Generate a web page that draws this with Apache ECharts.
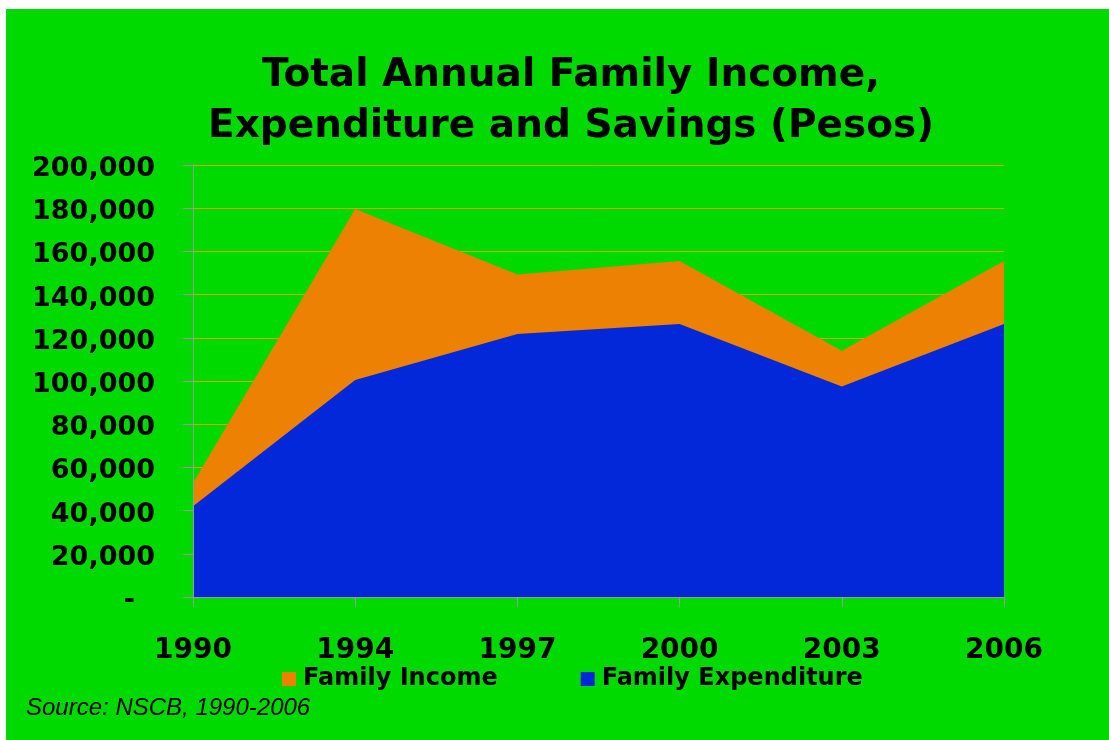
<!DOCTYPE html>
<html>
<head>
<meta charset="utf-8">
<script src="https://cdn.jsdelivr.net/npm/echarts@6/dist/echarts.min.js"></script>
<style>
  html, body { margin: 0; padding: 0; background: #ffffff; }
  #chart { position: absolute; left: 6px; top: 9px; width: 1103px; height: 731px; }
</style>
</head>
<body>
<div id="chart"></div>
<script>
// data (pesos)
var years = ['1990', '1994', '1997', '2000', '2003', '2006'];
var familyIncome = [52800, 179600, 149300, 155600, 114000, 155600];
var familyExpenditure = [42000, 100500, 121800, 126400, 97400, 126400];

var seriesNames = ['Family Income', 'Family Expenditure'];
var seriesColors = ['#ec8104', '#0328da'];

var myChart = echarts.init(document.getElementById('chart'));

var labelFont = {
  fontFamily: 'DejaVu Sans',
  fontWeight: 'bold',
  fontSize: 27,
  color: '#000'
};

var option = {
  backgroundColor: '#00da00',
  animation: false,
  legend: {
    data: seriesNames,
    left: 276,
    top: 658,
    padding: 0,
    icon: 'rect',
    itemWidth: 14,
    itemHeight: 14,
    itemGap: 83,
    textStyle: {
      fontFamily: 'DejaVu Sans',
      fontWeight: 'bold',
      fontSize: 24,
      color: '#000',
      padding: [0, 0, 0, 2]
    }
  },
  grid: {
    left: 187,
    right: 105,
    top: 156,
    bottom: 143,
    containLabel: false
  },
  xAxis: {
    type: 'category',
    data: years,
    boundaryGap: false,
    z: 10,
    axisLine: { lineStyle: { color: '#999999', width: 1 } },
    axisTick: { show: true, length: 10, lineStyle: { color: '#999999' } },
    axisLabel: {
      margin: 40,
      fontFamily: 'DejaVu Sans',
      fontWeight: 'bold',
      fontSize: 28,
      color: '#000'
    },
    splitLine: { show: false }
  },
  yAxis: [
    {
      type: 'value',
      min: 0,
      max: 200000,
      interval: 20000,
      z: 10,
      axisLine: { show: true, lineStyle: { color: '#999999', width: 1 } },
      axisTick: { show: true, length: 10, lineStyle: { color: '#999999' } },
      axisLabel: {
        margin: 38,
        color: '#000',
        formatter: function (v) {
          if (v === 0) return '{z|-}';
          return '{n|' + v.toString().replace(/\B(?=(\d{3})+(?!\d))/g, ',') + '}';
        },
        rich: {
          n: Object.assign({ padding: [8, 0, 0, 0] }, labelFont),
          z: Object.assign({ padding: [8, 20, 0, 0] }, labelFont)
        }
      },
      splitLine: { show: false }
    },
    {
      // gridlines only, kept behind the areas
      type: 'value',
      position: 'left',
      min: 0,
      max: 200000,
      interval: 20000,
      z: 0,
      axisLine: { show: false },
      axisTick: { show: false },
      axisLabel: { show: false },
      splitLine: { show: true, lineStyle: { color: '#d8a400', width: 1 } }
    }
  ],
  graphic: [
    {
      type: 'text',
      x: 565,
      y: 41,
      style: {
        text: 'Total Annual Family Income,\nExpenditure and Savings (Pesos)',
        font: 'bold 39px "DejaVu Sans"',
        lineHeight: 51,
        align: 'center',
        verticalAlign: 'top',
        fill: '#000'
      }
    },
    {
      type: 'text',
      left: 20,
      top: 687,
      style: {
        text: 'Source: NSCB, 1990-2006',
        font: 'italic 24px "Liberation Sans", Arial, sans-serif',
        fill: '#000'
      }
    }
  ],
  series: [
    {
      name: seriesNames[0],
      type: 'line',
      data: familyIncome,
      symbol: 'none',
      lineStyle: { width: 0 },
      itemStyle: { color: seriesColors[0] },
      areaStyle: { color: seriesColors[0], opacity: 1 },
      z: 2
    },
    {
      name: seriesNames[1],
      type: 'line',
      data: familyExpenditure,
      symbol: 'none',
      lineStyle: { width: 0 },
      itemStyle: { color: seriesColors[1] },
      areaStyle: { color: seriesColors[1], opacity: 1 },
      z: 3
    }
  ]
};

myChart.setOption(option);
</script>
</body>
</html>
